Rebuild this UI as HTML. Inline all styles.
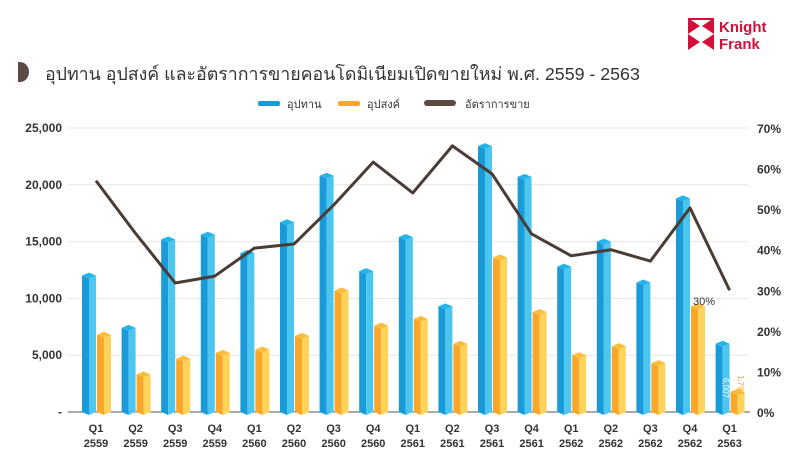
<!DOCTYPE html>
<html><head><meta charset="utf-8"><style>
body{margin:0;background:#fff;width:800px;height:466px;overflow:hidden;font-family:"Liberation Sans","Noto Sans CJK SC",sans-serif}
</style></head><body>
<svg id="s" width="800" height="466" xmlns="http://www.w3.org/2000/svg" font-family="Liberation Sans, Noto Sans CJK SC, sans-serif">
<g fill="#d0103a">
<polygon points="688,18 700,26 688,34"/><polygon points="714,18 702,26 714,34"/>
<polygon points="688,50 700,42 688,34"/><polygon points="714,50 702,42 714,34"/>
<rect x="688" y="18" width="26" height="2"/>
</g>
<text x="719" y="32" fill="#d0103a" font-size="15" font-weight="bold">Knight</text>
<text x="719" y="49" fill="#d0103a" font-size="15" font-weight="bold">Frank</text>
<path d="M20,62 A9,10 0 0 1 20,82 Z" fill="#5a4a42"/><rect x="18" y="62" width="3" height="20" fill="#5a4a42"/>
<text x="45" y="80" font-size="17.8" fill="#333">อุปทาน อุปสงค์ และอัตราการขายคอนโดมิเนียมเปิดขายใหม่ พ.ศ. 2559 - 2563</text>
<rect x="258" y="101" width="22" height="5" rx="2" fill="#1a9ad6"/><text x="287" y="108" font-size="11" fill="#333">อุปทาน</text>
<rect x="338" y="101" width="22" height="5" rx="2" fill="#f9a72b"/><text x="367" y="108" font-size="11" fill="#333">อุปสงค์</text>
<rect x="424" y="100" width="32" height="6" rx="3" fill="#5a4a42"/><text x="465" y="108" font-size="11" fill="#333">อัตราการขาย</text>
<g id="g"></g>
</svg>
<script>
var g=document.getElementById('g'),h='';
var B=[12000,7400,15200,15600,14000,16700,20800,12400,15400,9300,23400,20700,12800,15000,11400,18800,6007];
var O=[6800,3300,4700,5200,5500,6700,10700,7600,8200,6000,13600,8800,5000,5800,4300,9300,1791];
var L=[57,44,31.8,33.5,40.4,41.4,51,61.6,54,65.6,58.7,43.9,38.5,40,37.2,50.3,30];
var Q=['Q1','Q2','Q3','Q4','Q1','Q2','Q3','Q4','Q1','Q2','Q3','Q4','Q1','Q2','Q3','Q4','Q1'];
var Y=['2559','2559','2559','2559','2560','2560','2560','2560','2561','2561','2561','2561','2562','2562','2562','2562','2563'];
function yv(v){return 412-v/25000*284}
for(var k=0;k<=5;k++){var y=412-k*56.8;
 if(k>0)h+='<line x1="68" x2="748" y1="'+y+'" y2="'+y+'" stroke="#e6e6e6"/>';
 h+='<text x="62" y="'+(y+4)+'" font-size="12" font-weight="bold" fill="#333" text-anchor="end">'+(k?(k*5).toLocaleString('en')+',000':'-')+'</text>';}
for(var k=0;k<=7;k++){var y=412-k*284/7;h+='<text x="757" y="'+(y+5)+'" font-size="12" font-weight="bold" fill="#333">'+k*10+'%</text>';}
h+='<line x1="68" x2="750" y1="412" y2="412" stroke="#555"/>';
function bar(x0,v,c1,c2,c3){var x1=x0+14,xm=x0+7,t=yv(v);
 return '<polygon points="'+x0+','+t+' '+xm+','+(t+3)+' '+xm+',415 '+x0+',412" fill="'+c1+'"/>'+
 '<polygon points="'+xm+','+(t+3)+' '+x1+','+t+' '+x1+',412 '+xm+',415" fill="'+c2+'"/>'+
 '<polygon points="'+x0+','+t+' '+xm+','+(t+3)+' '+x1+','+t+' '+xm+','+(t-3)+'" fill="'+c3+'"/>';}
var pts=[];
for(var i=0;i<17;i++){var c=96+i*39.6;
 h+=bar(c-14,B[i],'#1a9ad6','#4cc6ef','#22b4ea');
 h+=bar(c+1,O[i],'#f9a72b','#fdd35a','#fbbd3c');
 h+='<text x="'+c+'" y="432" font-size="11" font-weight="bold" fill="#333" text-anchor="middle">'+Q[i]+'</text>';
 h+='<text x="'+c+'" y="447" font-size="11" font-weight="bold" fill="#333" text-anchor="middle">'+Y[i]+'</text>';
 pts.push(c+','+(412-L[i]/70*284));}
h+='<polyline points="'+pts.join(' ')+'" fill="none" stroke="#4a3c36" stroke-width="3" stroke-linejoin="round"/>';
h+='<text x="693" y="305" font-size="11" fill="#333">30%</text>';
h+='<text transform="translate(723,378) rotate(90)" font-size="8" fill="#fff">6,007</text>';
h+='<text transform="translate(738,375) rotate(90)" font-size="8" fill="#f9a72b">1,791</text>';
g.innerHTML=h;
</script>
</body></html>
